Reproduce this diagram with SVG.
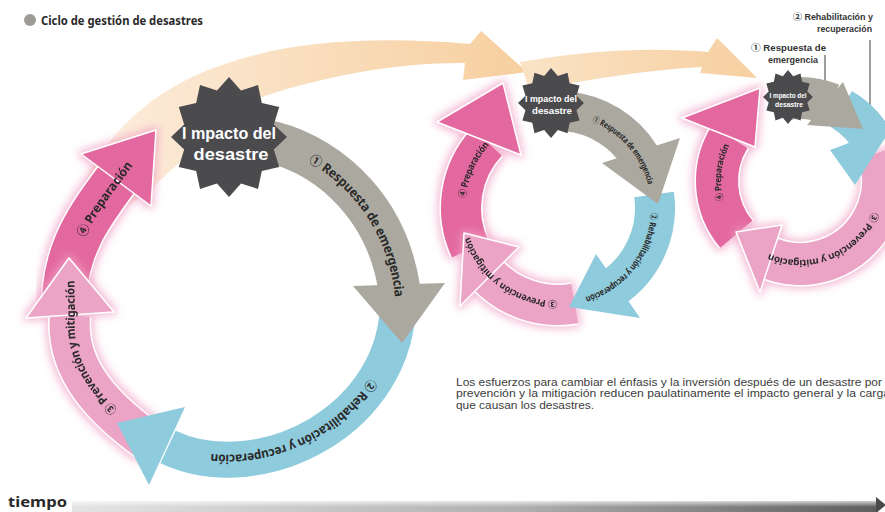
<svg xmlns="http://www.w3.org/2000/svg" width="885" height="512" viewBox="0 0 885 512">
<defs>
<style>
.t{font-family:"Noto Sans","Noto Sans CJK JP",sans-serif;font-weight:bold;fill:#2a2a2a}
.lbl{font-family:"Liberation Sans","Noto Sans",sans-serif;font-weight:bold;fill:#fff;text-anchor:middle}
.prep{stroke:#e3679f;fill:none}
.prepf{fill:#e3679f}
.prev{stroke:#eba3c6;fill:none}
.prevf{fill:#eba3c6}
.grey{stroke:#aba99f;fill:none}
.greyf{fill:#aba99f}
.blue{stroke:#8ecbdd;fill:none}
.bluef{fill:#8ecbdd}
.wl{stroke:#fff;fill:none}
.hw{stroke:#fff;stroke-width:1.5;stroke-linejoin:round}
.star{fill:#4b4b4e}
.desc{font-family:"Liberation Sans",Arial,sans-serif;font-size:10px;fill:#3c3c3c}
.lead{stroke:#3c3c3c;stroke-width:1;fill:none}
.rl{font-family:"Liberation Sans","Noto Sans CJK JP",sans-serif;font-weight:bold;fill:#333;font-size:9.5px;text-anchor:end}
</style>
<filter id="glow" x="-30%" y="-30%" width="160%" height="160%">
<feMorphology in="SourceAlpha" operator="dilate" radius="2" result="d"/>
<feGaussianBlur in="d" stdDeviation="4" result="b"/>
<feFlood flood-color="#f0a0c4" flood-opacity="0.75"/>
<feComposite in2="b" operator="in" result="g"/>
<feMerge><feMergeNode in="g"/><feMergeNode in="SourceGraphic"/></feMerge>
</filter>
<linearGradient id="og1" gradientUnits="userSpaceOnUse" x1="70" y1="0" x2="527" y2="0"><stop offset="0" stop-color="#fcefe1"/><stop offset="0.45" stop-color="#fae0c2"/><stop offset="1" stop-color="#f7cf9f"/></linearGradient>
<linearGradient id="og2" gradientUnits="userSpaceOnUse" x1="520" y1="0" x2="757" y2="0"><stop offset="0" stop-color="#fae3c6"/><stop offset="1" stop-color="#f7cfa0"/></linearGradient>
<linearGradient id="tb" x1="0" x2="1" y1="0" y2="0"><stop offset="0" stop-color="#e4e4e4"/><stop offset="0.55" stop-color="#b0b0b0"/><stop offset="1" stop-color="#5e5e5e"/></linearGradient>
<linearGradient id="tbv" x1="0" y1="0" x2="0" y2="1"><stop offset="0" stop-color="#fff" stop-opacity="0.7"/><stop offset="0.5" stop-color="#fff" stop-opacity="0"/></linearGradient>
<polygon id="star" points="0,-100 20.7,-77.3 50,-86.6 56.6,-56.6 86.6,-50 77.3,-20.7 100,0 77.3,20.7 86.6,50 56.6,56.6 50,86.6 20.7,77.3 0,100 -20.7,77.3 -50,86.6 -56.6,56.6 -86.6,50 -77.3,20.7 -100,0 -77.3,-20.7 -86.6,-50 -56.6,-56.6 -50,-86.6 -20.7,-77.3"/>
<path id="bpPrep" d="M64,305 C64,250 90,215 116,180"/>
<path id="btPrep" d="M64,305 C64,250 90,215 116,180 L140,148"/>
<path id="bpPrev" d="M150,442 C90,400 66,360 70,315"/>
<path id="btPrev" d="M150,442 C90,400 66,360 70,315 L69,262"/>
<path id="bpBlue" d="M398,298 C400,420 260,490 168,447"/>
<path id="bpGrey" d="M262,140 C320,150 385,200 399,287"/>
<path id="btGrey" d="M262,140 C320,150 385,200 399,287 L401,312"/>
<path id="mc" d="M655,208 A97,97 0 1 1 461,208 A97,97 0 1 1 655,208"/>
<path id="rc" d="M883,181 A83,83 0 1 1 717,181 A83,83 0 1 1 883,181"/>
</defs>
<rect width="885" height="512" fill="#fff"/>

<g id="title">
<circle cx="30" cy="20" r="6" fill="#9d9b93"/>
<text class="t" x="41" y="25" font-size="12" textLength="162" lengthAdjust="spacingAndGlyphs">Ciclo de gestión de desastres</text>
</g>

<g id="connectors">
<path d="M75,205 C120,80 250,25 470,44 L481,31 L527,72 L463,80 L465,63 C380,62 290,85 240,105 L150,190 L100,225 Z" fill="url(#og1)"/>
<path d="M520,62 C600,48 660,48 708,52 L717,38 L757,78 L700,73 L702,67 C650,70 590,78 530,92 Z" fill="url(#og2)"/>
<line class="lead" x1="825" y1="55" x2="825" y2="108"/>
<line class="lead" x1="870" y1="40" x2="870" y2="155"/>
</g>

<!-- big cycle -->
<g id="big-prep" filter="url(#glow)">
<use href="#bpPrep" class="wl" stroke-width="47"/>
<use href="#bpPrep" class="prep" stroke-width="44"/>
<polygon class="prepf hw" points="81,154 151,206 156,130"/>
<text class="t" font-size="12.5" dominant-baseline="central"><textPath href="#btPrep" startOffset="72" textLength="88" lengthAdjust="spacingAndGlyphs">④ Preparación</textPath></text>
</g>
<g id="big-prev" filter="url(#glow)">
<use href="#bpPrev" class="wl" stroke-width="43"/>
<use href="#bpPrev" class="prev" stroke-width="40"/>
<polygon class="prevf hw" points="26,318 114,312 69,258"/>
<text class="t" font-size="12" dominant-baseline="central"><textPath href="#btPrev" startOffset="46" textLength="146" lengthAdjust="spacingAndGlyphs">③ Prevención y mitigación</textPath></text>
</g>
<g id="big-blue">
<use href="#bpBlue" class="blue" stroke-width="36"/>
<polygon class="bluef" points="185,407 149,485 117,423"/>
<text class="t" font-size="12.5" dominant-baseline="central"><textPath href="#bpBlue" startOffset="88" textLength="190" lengthAdjust="spacingAndGlyphs">② Rehabilitación y recuperación</textPath></text>
</g>
<g id="big-grey">
<use href="#bpGrey" class="grey" stroke-width="42"/>
<polygon class="greyf" points="353,286 445,283 402,343"/>
<text class="t" font-size="13" dominant-baseline="central"><textPath href="#btGrey" startOffset="52" textLength="172" lengthAdjust="spacingAndGlyphs">① Respuesta de emergencia</textPath></text>
</g>
<g id="big-star">
<use href="#star" class="star" transform="translate(229,137) scale(0.58,0.6)"/>
<text class="lbl" x="229" y="139" font-size="16.5" textLength="94" lengthAdjust="spacingAndGlyphs">I mpacto del</text>
<text class="lbl" x="231" y="160" font-size="16.5" textLength="75" lengthAdjust="spacingAndGlyphs">desastre</text>
</g>

<!-- middle cycle -->
<g id="mid-prep" filter="url(#glow)">
<circle cx="558" cy="208" r="97" class="wl" stroke-width="43" stroke-dasharray="115.1 1000" transform="rotate(155 558 208)"/>
<circle cx="558" cy="208" r="97" class="prep" stroke-width="40" stroke-dasharray="115.1 1000" transform="rotate(155 558 208)"/>
<polygon class="prepf hw" points="437,122 521,155 503,83"/>
<text class="t" font-size="9.5" dominant-baseline="central" text-anchor="middle"><textPath href="#mc" startOffset="345.4" textLength="61" lengthAdjust="spacingAndGlyphs">④ Preparación</textPath></text>
</g>
<g id="mid-prev" filter="url(#glow)">
<circle cx="558" cy="208" r="97" class="wl" stroke-width="43" stroke-dasharray="96.5 1000" transform="rotate(80 558 208)"/>
<circle cx="558" cy="208" r="97" class="prev" stroke-width="40" stroke-dasharray="96.5 1000" transform="rotate(80 558 208)"/>
<polygon class="prevf hw" points="519,247 460,306 464,233"/>
<text class="t" font-size="9.5" dominant-baseline="central" text-anchor="middle"><textPath href="#mc" startOffset="213.3" textLength="120" lengthAdjust="spacingAndGlyphs">③ Prevención y mitigación</textPath></text>
</g>
<g id="mid-blue">
<circle cx="558" cy="208" r="97" class="blue" stroke-width="40" stroke-dasharray="106.7 1000" transform="rotate(-8 558 208)"/>
<polygon class="bluef" points="596,254 640,318 569,307"/>
<text class="t" font-size="9" dominant-baseline="central" text-anchor="middle"><textPath href="#mc" startOffset="64.3" textLength="118" lengthAdjust="spacingAndGlyphs">② Rehabilitación y recuperación</textPath></text>
</g>
<g id="mid-grey">
<circle cx="558" cy="208" r="97" class="grey" stroke-width="40" stroke-dasharray="89.7 1000" transform="rotate(-85 558 208)"/>
<polygon class="greyf" points="602,163 680,138 658,204"/>
<text class="t" font-size="8.5" dominant-baseline="central" text-anchor="middle"><textPath href="#mc" startOffset="538.4" textLength="91" lengthAdjust="spacingAndGlyphs">① Respuesta de emergencia</textPath></text>
</g>
<g id="mid-star">
<use href="#star" class="star" transform="translate(551,103) scale(0.33,0.35)"/>
<text class="lbl" x="551" y="102" font-size="9.5" textLength="52" lengthAdjust="spacingAndGlyphs">I mpacto del</text>
<text class="lbl" x="552" y="114" font-size="9.5" textLength="40" lengthAdjust="spacingAndGlyphs">desastre</text>
</g>

<!-- right cycle -->
<g id="right-prep" filter="url(#glow)">
<circle cx="800" cy="181" r="83" class="wl" stroke-width="45" stroke-dasharray="104.3 1000" transform="rotate(140 800 181)"/>
<circle cx="800" cy="181" r="83" class="prep" stroke-width="42" stroke-dasharray="104.3 1000" transform="rotate(140 800 181)"/>
<polygon class="prepf hw" points="682,118 755,147 760,88"/>
<text class="t" font-size="9" dominant-baseline="central" text-anchor="middle"><textPath href="#rc" startOffset="269.4" textLength="59" lengthAdjust="spacingAndGlyphs">④ Preparación</textPath></text>
</g>
<g id="right-prev" filter="url(#glow)">
<circle cx="800" cy="181" r="83" class="wl" stroke-width="45" stroke-dasharray="192.7 1000" transform="rotate(-20 800 181)"/>
<circle cx="800" cy="181" r="83" class="prev" stroke-width="42" stroke-dasharray="192.7 1000" transform="rotate(-20 800 181)"/>
<polygon class="prevf hw" points="782,225 760,292 736,232"/>
<text class="t" font-size="9.5" dominant-baseline="central" text-anchor="middle"><textPath href="#rc" startOffset="98.5" textLength="130" lengthAdjust="spacingAndGlyphs">③ Prevención y mitigación</textPath></text>
</g>
<g id="right-blue">
<circle cx="800" cy="181" r="83" class="blue" stroke-width="42" stroke-dasharray="46.4 1000" transform="rotate(-60 800 181)"/>
<polygon class="bluef" points="830,150 892,127 855,185"/>
</g>
<g id="right-grey">
<circle cx="800" cy="181" r="83" class="grey" stroke-width="42" stroke-dasharray="46.4 1000" transform="rotate(-100 800 181)"/>
<polygon class="greyf" points="843,82 807,125 863,129"/>
</g>
<g id="right-star">
<use href="#star" class="star" transform="translate(788,97) scale(0.25,0.27)"/>
<text class="lbl" x="788" y="98" font-size="6.5" textLength="37" lengthAdjust="spacingAndGlyphs">I mpacto del</text>
<text class="lbl" x="789" y="107" font-size="6.5" textLength="28" lengthAdjust="spacingAndGlyphs">desastre</text>
</g>
<g id="right-labels">
<text class="rl" x="873" y="20" textLength="80" lengthAdjust="spacingAndGlyphs">② Rehabilitación y</text>
<text class="rl" x="872" y="32" textLength="55" lengthAdjust="spacingAndGlyphs">recuperación</text>
<text class="rl" x="826" y="51" textLength="75" lengthAdjust="spacingAndGlyphs">① Respuesta de</text>
<text class="rl" x="818" y="63" textLength="50" lengthAdjust="spacingAndGlyphs">emergencia</text>
</g>

<g id="description">
<text class="desc" x="456" y="385.5" textLength="426" lengthAdjust="spacingAndGlyphs">Los esfuerzos para cambiar el énfasis y la inversión después de un desastre por</text>
<text class="desc" x="456" y="397" textLength="434" lengthAdjust="spacingAndGlyphs">prevención y la mitigación reducen paulatinamente el impacto general y la carga</text>
<text class="desc" x="456" y="408.5" textLength="138" lengthAdjust="spacingAndGlyphs">que causan los desastres.</text>
</g>

<g id="timeline">
<rect x="72" y="501" width="806" height="12" fill="url(#tb)"/>
<rect x="72" y="501" width="806" height="12" fill="url(#tbv)"/>
<polygon points="876,497 886,505 876,513" fill="#4a4a4a"/>
<text class="t" x="8" y="507" font-size="15" fill="#333" textLength="59" lengthAdjust="spacingAndGlyphs">tiempo</text>
</g>
</svg>
